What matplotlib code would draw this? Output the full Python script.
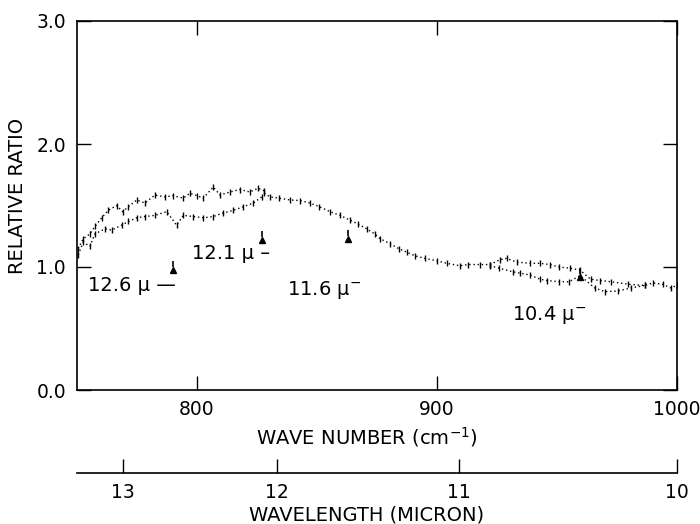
import numpy as np
import matplotlib
matplotlib.use("Agg")
import matplotlib.pyplot as plt

plt.rcParams['font.family'] = ['DejaVu Sans']
plt.rcParams['mathtext.fontset'] = 'dejavusans'

# ---- data ----
wn_left_upper = [750.5, 752.6, 755.4, 757.5, 760.3, 763.0, 766.5, 769.0, 771.4, 774.9, 778.3,
                 782.5, 786.7, 790.0, 794.3, 797.0, 800.0, 802.6, 806.8, 809.6, 813.8, 817.9,
                 822.0, 825.5, 828.0]
val_left_upper = [1.15, 1.23, 1.27, 1.33, 1.40, 1.46, 1.50, 1.45, 1.49, 1.545, 1.52,
                  1.585, 1.57, 1.58, 1.56, 1.60, 1.58, 1.56, 1.65, 1.585, 1.61, 1.63,
                  1.61, 1.64, 1.62]
wn_left_lower = [750.5, 752.6, 755.4, 757.5, 761.7, 764.4, 768.6, 771.4, 774.9, 778.3, 782.5,
                 787.4, 791.5, 794.3, 798.5, 802.6, 806.8, 811.0, 815.1, 819.3, 823.5, 827.0]
val_left_lower = [1.10, 1.20, 1.17, 1.27, 1.31, 1.30, 1.34, 1.37, 1.40, 1.41, 1.42,
                  1.45, 1.34, 1.42, 1.41, 1.40, 1.41, 1.44, 1.46, 1.49, 1.52, 1.57]
wn_mid = [828.0, 830.4, 834.0, 838.8, 843.0, 847.1, 851.0, 855.4, 859.6, 863.8, 867.0,
          870.7, 874.0, 876.3, 880.4, 884.0, 887.4, 891.0, 895.0, 900.0, 904.0, 909.6,
          913.0, 917.9, 922.0]
val_mid = [1.60, 1.57, 1.56, 1.545, 1.54, 1.52, 1.49, 1.45, 1.42, 1.38, 1.35,
           1.31, 1.27, 1.23, 1.19, 1.15, 1.12, 1.09, 1.07, 1.05, 1.03, 1.01,
           1.02, 1.02, 1.02]
wn_right_upper = [922.0, 926.3, 929.0, 933.2, 938.75, 943.0, 947.0, 951.0, 955.4, 959.6,
                  964.0, 968.0, 972.6, 979.6, 986.5, 990.0, 994.0, 997.4, 1000.0]
val_right_upper = [1.02, 1.06, 1.07, 1.04, 1.03, 1.03, 1.02, 1.00, 0.99, 0.975,
                   0.90, 0.89, 0.88, 0.86, 0.85, 0.87, 0.86, 0.83, 0.85]
wn_right_lower = [922.0, 926.0, 931.8, 934.6, 938.75, 943.0, 945.7, 951.0, 955.0, 959.6,
                  965.7, 969.9, 975.4, 981.0, 986.5]
val_right_lower = [1.01, 0.99, 0.96, 0.95, 0.935, 0.90, 0.89, 0.88, 0.88, 0.93,
                   0.83, 0.80, 0.805, 0.83, 0.85]

arrow_wn = [790.0, 827.0, 863.0, 959.6]
arrow_val = [0.975, 1.22, 1.23, 0.92]

label_texts = ["12.6 μ —", "12.1 μ –", "11.6 μ$^{-}$", "10.4 μ$^{-}$"]
label_wn = [754.6, 797.9, 837.4, 931.1]
label_val = [0.85, 1.11, 0.81, 0.61]

x_ticks = [800, 900, 1000]
y_ticks = [0.0, 1.0, 2.0, 3.0]
y_ticklabels = ["0.0", "1.0", "2.0", "3.0"]
wavelength_ticks = [13, 12, 11, 10]

# ---- figure ----
W, H = 700, 524
fig = plt.figure(figsize=(W / 100, H / 100), dpi=100)
ax = fig.add_axes([77 / W, 1 - 390 / H, 600 / W, 369 / H])
ax.set_xlim(750, 1000)
ax.set_ylim(0, 3)

series = [(wn_left_upper, val_left_upper), (wn_left_lower, val_left_lower),
          (wn_mid, val_mid), (wn_right_upper, val_right_upper),
          (wn_right_lower, val_right_lower)]
for xs, ys in series:
    ax.plot(xs, ys, color='black', lw=1.0, ls=(0, (1, 2)),
            marker='|', ms=4, mew=1.0)

ax.plot(arrow_wn, arrow_val, ls='none', marker='^', ms=5, color='black')
ax.plot(arrow_wn, [v + 0.05 for v in arrow_val], ls='none', marker='|', ms=4,
        mew=1.2, color='black')

for t, x, y in zip(label_texts, label_wn, label_val):
    ax.text(x, y, t, fontsize=14, ha='left', va='center')

ax.set_xticks(x_ticks)
ax.set_xticklabels([str(v) for v in x_ticks])
ax.set_yticks(y_ticks)
ax.set_yticklabels(y_ticklabels)
ax.tick_params(direction='in', length=10, width=1.0, top=True, right=True,
               labelsize=13.5)
ax.tick_params(axis='x', pad=7)
ax.tick_params(axis='y', pad=8)
for s in ax.spines.values():
    s.set_linewidth(1.2)

fig.text(18 / W, 1 - 196 / H, "RELATIVE RATIO", rotation=90, ha='center',
         va='center', fontsize=14)
fig.text(367 / W, 1 - 437 / H, "WAVE NUMBER (cm$^{-1}$)", ha='center',
         va='center', fontsize=14)

# secondary wavelength scale
ax2 = fig.add_axes([77 / W, 1 - 473 / H, 600 / W, 0.0001])
ax2.set_xlim(750, 1000)
ax2.set_ylim(0, 1)
for k in ['top', 'left', 'right']:
    ax2.spines[k].set_visible(False)
ax2.spines['bottom'].set_linewidth(1.2)
ax2.patch.set_visible(False)
ax2.set_yticks([])
ax2.set_xticks([10000.0 / w for w in wavelength_ticks])
ax2.set_xticklabels([str(w) for w in wavelength_ticks])
ax2.tick_params(axis='x', direction='in', length=10, width=1.0, labelsize=13.5, pad=7)

fig.text(367 / W, 1 - 515 / H, "WAVELENGTH (MICRON)", ha='center',
         va='center', fontsize=14)

fig.savefig("out.png", dpi=100)
